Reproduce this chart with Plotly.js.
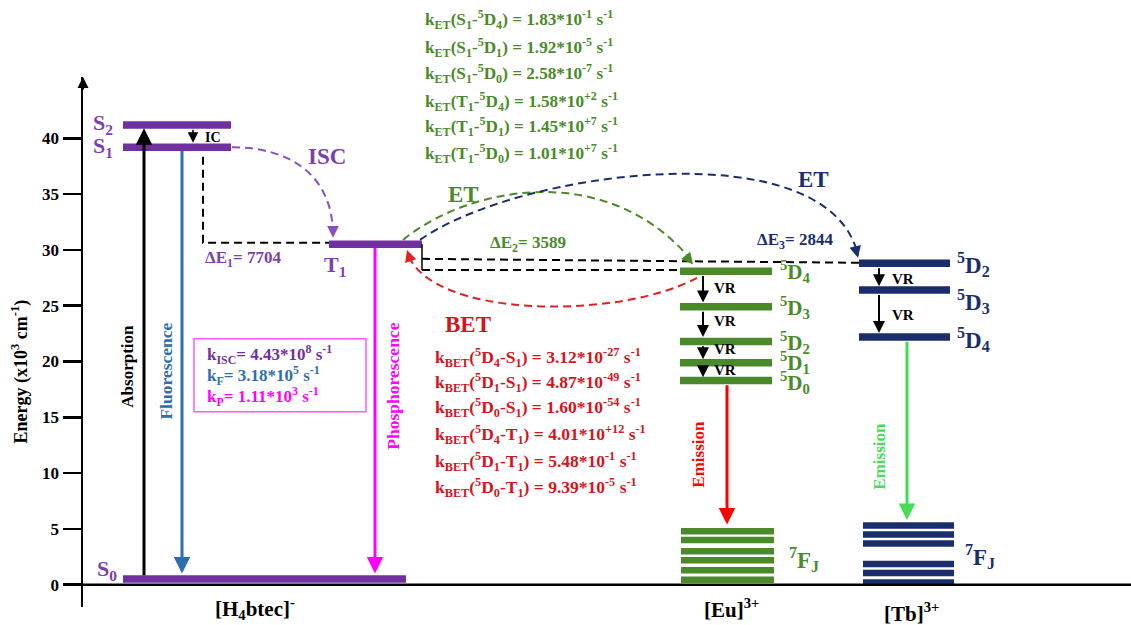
<!DOCTYPE html>
<html><head><meta charset="utf-8">
<script src="https://cdn.plot.ly/plotly-3.0.1.min.js"></script>
<style>html,body{margin:0;padding:0;background:#fff}</style>
</head><body><div id="chart" style="width:1131px;height:625px"></div>
<script>
// ---------------- data ----------------
const yTicks = [0, 5, 10, 15, 20, 25, 30, 35, 40];
const ligandLevels = ['S0', 'S1', 'S2', 'T1'];
const ligandEnergy = [0.5, 39.2, 41.2, 30.5];
const euLevels = ['5D4', '5D3', '5D2', '5D1', '5D0'];
const euEnergy = [28.1, 24.9, 21.8, 19.9, 18.3];
const euFJ = [4.8, 4.0, 3.0, 2.2, 1.3, 0.45];
const tbLevels = ['5D2', '5D3', '5D4'];
const tbEnergy = [28.8, 26.4, 22.2];
const tbFJ = [5.3, 4.5, 3.7, 1.85, 1.05, 0.2];
const deltaE = [7704, 3589, 2844];
const etPairs = ['S<sub>1</sub>-<sup>5</sup>D<sub>4</sub>', 'S<sub>1</sub>-<sup>5</sup>D<sub>1</sub>', 'S<sub>1</sub>-<sup>5</sup>D<sub>0</sub>',
                 'T<sub>1</sub>-<sup>5</sup>D<sub>4</sub>', 'T<sub>1</sub>-<sup>5</sup>D<sub>1</sub>', 'T<sub>1</sub>-<sup>5</sup>D<sub>0</sub>'];
const etMant = ['1.83', '1.92', '2.58', '1.58', '1.45', '1.01'];
const etExp = ['-1', '-5', '-7', '+2', '+7', '+7'];
const betPairs = ['<sup>5</sup>D<sub>4</sub>-S<sub>1</sub>', '<sup>5</sup>D<sub>1</sub>-S<sub>1</sub>', '<sup>5</sup>D<sub>0</sub>-S<sub>1</sub>',
                  '<sup>5</sup>D<sub>4</sub>-T<sub>1</sub>', '<sup>5</sup>D<sub>1</sub>-T<sub>1</sub>', '<sup>5</sup>D<sub>0</sub>-T<sub>1</sub>'];
const betMant = ['3.12', '4.87', '1.60', '4.01', '5.48', '9.39'];
const betExp = ['-27', '-49', '-54', '+12', '-1', '-5'];
const ligRates = [['ISC', '4.43', '8'], ['F', '3.18', '5'], ['P', '1.11', '3']];
const groups = ['[H<sub>4</sub>btec]<sup>-</sup>', '[Eu]<sup>3+</sup>', '[Tb]<sup>3+</sup>'];

// ---------------- styles ----------------
const PUR = '#7030a0', PURT = '#7b3fae', GRN = '#4a8a2a', NAV = '#1a2e6c', RED = '#d4141c',
      BLU = '#2e6eae', MAG = '#ff00ff', FONT = 'Liberation Serif', DASH = '8px,5px';
const traces = [];
function seg(x, y, color, width, dash) {
  traces.push({type: 'scatter', mode: 'lines', x: x, y: y, hoverinfo: 'skip', showlegend: false,
    line: {color: color, width: width, dash: dash || 'solid'}});
}
// ligand levels
const ligX = {S0: [123, 406], S1: [123, 231], S2: [123, 231], T1: [329, 422]};
ligandLevels.forEach((n, i) => seg(ligX[n], [ligandEnergy[i], ligandEnergy[i]], PUR, 7.5));
euLevels.forEach((n, i) => seg([680, 772], [euEnergy[i], euEnergy[i]], GRN, 7.5));
euFJ.forEach(e => seg([681, 774], [e, e], GRN, 6.5));
tbLevels.forEach((n, i) => seg([859, 950], [tbEnergy[i], tbEnergy[i]], NAV, 7.5));
tbFJ.forEach(e => seg([863, 954], [e, e], NAV, 6.5));
// dashed helper lines
seg([203, 203, 329], [38.35, 30.65, 30.65], '#000', 2, DASH);
seg([422, 422], [30.5, 28.2], '#000', 1.5);
seg([422, 860], [29.2, 28.85], '#000', 2, DASH);
seg([422, 680], [28.2, 28.2], '#000', 2, DASH);
// x axis line
seg([83, 1131], [0, 0], '#000', 2.5);

const shapes = [
  {type: 'path', xref: 'x', yref: 'y', path: 'M 232 39.2 C 290 39.2 333 36.7 333 31.3', line: {color: '#8a4fc0', width: 2, dash: DASH}},
  {type: 'path', xref: 'x', yref: 'y', path: 'M 403 30.9 C 470 35.8 610 38.1 693 28.9', line: {color: GRN, width: 2, dash: DASH}},
  {type: 'path', xref: 'x', yref: 'y', path: 'M 420 30.9 C 520 37.2 830 40.8 858 29.5', line: {color: NAV, width: 2, dash: DASH}},
  {type: 'path', xref: 'x', yref: 'y', path: 'M 697 27.5 C 620 23.75 430 23.75 407 29.8', line: {color: '#e02020', width: 2, dash: DASH}},
  {type: 'rect', xref: 'x', yref: 'y', x0: 194, x1: 366, y0: 15.5, y1: 22.05, line: {color: '#ff55ff', width: 1.5}}
];

const ann = [];
function txt(text, x, y, size, color, o) {
  ann.push(Object.assign({text: '<b>' + text + '</b>', x: x, y: y, xref: 'x', yref: 'y', showarrow: false,
    font: {family: FONT, size: size, color: color}, xanchor: 'center', yanchor: 'middle'}, o || {}));
}
function arrow(x, y0, y1, color, w, size) {
  ann.push({x: x, y: y1, ax: x, ay: y0, xref: 'x', yref: 'y', axref: 'x', ayref: 'y', text: '', showarrow: true,
    arrowhead: 2, arrowsize: size || 1.1, arrowwidth: w, arrowcolor: color, standoff: 0});
}
function head(x, y, dx, dy, color) {
  ann.push({x: x, y: y, ax: dx, ay: dy, xref: 'x', yref: 'y', text: '', showarrow: true,
    arrowhead: 2, arrowsize: 1.3, arrowwidth: 1.8, arrowcolor: color, standoff: 0});
}
// y axis arrow tip
ann.push({x: 83, y: 45.5, ax: 0, ay: 14, xref: 'x', yref: 'y', text: '', showarrow: true, arrowhead: 2, arrowsize: 1, arrowwidth: 2.2, arrowcolor: '#000', standoff: 0});
// vertical transition arrows
arrow(144, 0.7, 40.9, '#000', 3);
arrow(182, 39.0, 1.0, BLU, 3);
arrow(375, 30.3, 1.0, MAG, 3);
arrow(193, 40.9, 39.6, '#000', 1.5, 1.4);
[[28.1, 25.3], [24.9, 22.2], [21.8, 20.2], [19.9, 18.6]].forEach(p => arrow(703, p[0] - 0.3, p[1], '#000', 2, 1.2));
[[28.8, 26.75], [26.4, 22.55]].forEach(p => arrow(879, p[0] - 0.3, p[1], '#000', 2, 1.2));
arrow(727, 18.0, 5.4, '#ff0000', 3);
arrow(907, 21.9, 5.8, '#44dd55', 3);
// curve heads
head(333, 31.1, 0, -12, '#8a4fc0');
head(693, 28.7, -8, -10, GRN);
head(858, 29.3, -3, -12, NAV);
head(407, 30.0, 4, 12, '#e02020');

// labels
txt('S<sub>2</sub>', 103, 41.3, 22, PURT);
txt('S<sub>1</sub>', 103, 39.2, 22, PURT);
txt('S<sub>0</sub>', 107, 1.35, 22, PURT);
txt('T<sub>1</sub>', 335, 28.6, 22, PURT);
txt('IC', 213, 40.05, 14, '#000');
txt('ISC', 327, 38.36, 23, PURT);
txt('ΔE<sub>1</sub>= ' + deltaE[0], 243, 29.2, 17, PURT);
txt('ET', 463, 34.95, 23, GRN);
txt('ET', 813, 36.3, 23, NAV);
txt('ΔE<sub>2</sub>= ' + deltaE[1], 528, 30.56, 17, GRN);
txt('ΔE<sub>3</sub>= ' + deltaE[2], 795, 30.83, 17, NAV);
txt('BET', 443, 23.3, 23, RED, {xanchor: 'left'});
const betY = [20.34, 18.1, 15.86, 13.44, 11.02, 8.69];
betPairs.forEach((p, i) => txt('k<sub>BET</sub>(' + p + ') = ' + betMant[i] + '*10<sup>' + betExp[i] + '</sup> s<sup>-1</sup>', 433, betY[i], 17.5, RED, {xanchor: 'left'}));
const etPy = [20, 47, 73, 101, 127, 153];
etPairs.forEach((p, i) => txt('k<sub>ET</sub>(' + p + ') = ' + etMant[i] + '*10<sup>' + etExp[i] + '</sup> s<sup>-1</sup>', 423, (607 - etPy[i]) / 530, 17.2, GRN, {xanchor: 'left', yref: 'paper'}));
const rateCol = [PUR, BLU, MAG], rateY = [20.6, 18.73, 16.85];
ligRates.forEach((r, i) => txt('k<sub>' + r[0] + '</sub>= ' + r[1] + '*10<sup>' + r[2] + '</sup> s<sup>-1</sup>', 205, rateY[i], 17, rateCol[i], {xanchor: 'left'}));
const euLabY = [28.05, 24.8, 21.75, 19.95, 18.15];
euLevels.forEach((n, i) => txt('<sup>5</sup>D<sub>' + n[2] + '</sub>', 778, euLabY[i], 21, GRN, {xanchor: 'left'}));
const tbLabY = [28.68, 25.36, 21.96];
tbLevels.forEach((n, i) => txt('<sup>5</sup>D<sub>' + n[2] + '</sub>', 955, tbLabY[i], 23, NAV, {xanchor: 'left'}));
txt('<sup>7</sup>F<sub>J</sub>', 787, 2.24, 23, GRN, {xanchor: 'left'});
txt('<sup>7</sup>F<sub>J</sub>', 963, 2.5, 23, NAV, {xanchor: 'left'});
[26.6, 23.66, 21.15, 19.27].forEach(y => txt('VR', 712, y, 15, '#000', {xanchor: 'left'}));
[27.4, 24.2].forEach(y => txt('VR', 890, y, 15, '#000', {xanchor: 'left'}));
txt('Absorption', 128, 19.54, 17, '#000', {textangle: -90});
txt('Fluorescence', 166, 19.1, 17.5, BLU, {textangle: -90});
txt('Phosphorescence', 393, 17.75, 17.5, MAG, {textangle: -90});
txt('Emission', 699, 11.65, 17, '#ff0000', {textangle: -90});
txt('Emission', 880, 11.47, 17, '#44dd55', {textangle: -90});
txt(groups[0], 255, -0.0035, 21, '#000', {yref: 'paper'});
txt(groups[1], 731, -0.0035, 21, '#000', {yref: 'paper'});
txt(groups[2], 911, -0.01, 21, '#000', {yref: 'paper'});
txt('Energy (x10<sup>3</sup> cm<sup>-1</sup>)', -0.0601, 19.1, 18, '#000', {xref: 'paper', textangle: -90});

const layout = {
  width: 1131, height: 625, paper_bgcolor: '#fff', plot_bgcolor: '#fff',
  margin: {l: 83, r: 0, t: 77, b: 18}, showlegend: false,
  xaxis: {range: [83, 1131], visible: false, fixedrange: true},
  yaxis: {range: [-2, 45.5], showline: true, linecolor: '#000', linewidth: 2.5, showgrid: false, zeroline: false,
    ticks: 'outside', ticklen: 18, tickwidth: 2.5, tickcolor: '#000', tickvals: yTicks, ticktext: yTicks.map(String),
    tickfont: {family: FONT, size: 17, color: '#000', weight: 'bold'}, fixedrange: true},
  shapes: shapes, annotations: ann
};
Plotly.newPlot('chart', traces, layout, {displayModeBar: false, staticPlot: true});
</script></body></html>
